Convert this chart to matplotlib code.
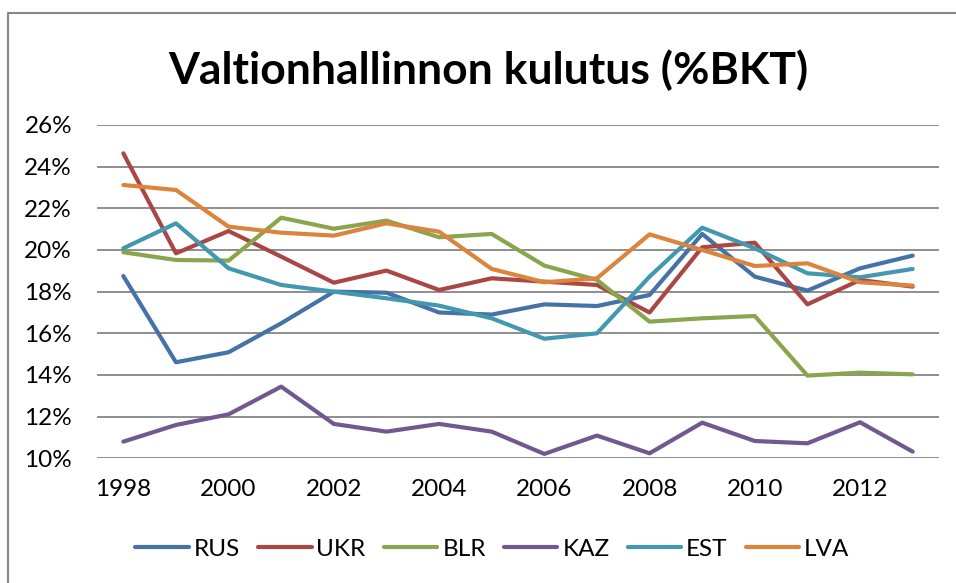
import matplotlib.pyplot as plt
from matplotlib.lines import Line2D
from matplotlib.ticker import FuncFormatter

# years and government consumption (% of GDP)
years = list(range(1998, 2014))
rus = [18.75, 14.61, 15.09, 16.48, 18.0, 17.95, 17.0, 16.9,
       17.39, 17.31, 17.84, 20.77, 18.72, 18.05, 19.12, 19.73]
ukr = [24.64, 19.84, 20.91, 19.68, 18.43, 19.01, 18.08, 18.64,
       18.48, 18.32, 17.0, 20.13, 20.35, 17.39, 18.56, 18.24]
blr = [19.89, 19.52, 19.49, 21.55, 21.02, 21.41, 20.61, 20.77,
       19.25, 18.56, 16.56, 16.72, 16.83, 13.97, 14.11, 14.03]
kaz = [10.8, 11.6, 12.11, 13.44, 11.65, 11.28, 11.65, 11.28,
       10.21, 11.09, 10.24, 11.71, 10.83, 10.72, 11.73, 10.32]
est = [20.08, 21.28, 19.12, 18.32, 18.0, 17.68, 17.33, 16.72,
       15.74, 16.0, 18.72, 21.07, 20.08, 18.88, 18.69, 19.09]
lva = [23.12, 22.88, 21.12, 20.83, 20.69, 21.28, 20.88, 19.09,
       18.45, 18.64, 20.75, 20.0, 19.23, 19.36, 18.45, 18.29]

labels = ["RUS", "UKR", "BLR", "KAZ", "EST", "LVA"]
colors = ["#4572A7", "#AA4643", "#89A54E", "#71588F", "#4198AF", "#DB843D"]
series = [rus, ukr, blr, kaz, est, lva]

plt.rcParams['font.family'] = ['Lato', 'DejaVu Sans']

fig = plt.figure(figsize=(9.56, 5.83), dpi=100)
ax = fig.add_axes([0.1015, 0.2139, 0.8807, 0.5717])

for vals, lab, col in zip(series, labels, colors):
    ax.plot(years, vals, color=col, lw=3.0, label=lab, solid_capstyle="round")

ax.set_xlim(1997.5, 2013.5)
ax.set_ylim(10, 26)
ax.set_xticks(years[::2])
ax.set_yticks(range(10, 27, 2))
ax.yaxis.set_major_formatter(FuncFormatter(lambda v, p: f"{v:.0f}%"))
ax.grid(axis="y", color="#868686", lw=1.3)
ax.set_axisbelow(True)
for s in ax.spines.values():
    s.set_visible(False)
ax.tick_params(length=0, labelsize=17.5, colors="black")
ax.tick_params(axis="x", pad=15)
ax.tick_params(axis="y", pad=18)

fig.text(0.511, 0.88, "Valtionhallinnon kulutus (%BKT)", ha="center", va="center",
         fontsize=32, fontweight="bold")

fig.legend(loc="center", bbox_to_anchor=(0.515, 0.058), ncol=6, frameon=False,
           fontsize=17.5, handlelength=2.2, handletextpad=0.2, columnspacing=0.75)

# chart frame (left and top edges visible in the crop)
bx = 8.3 / 956
by = 1 - 13 / 583
fig.add_artist(Line2D([bx, bx, 1], [0, by, by], transform=fig.transFigure,
                      color="#868686", lw=1.5))

fig.savefig("out.png", dpi=100)
